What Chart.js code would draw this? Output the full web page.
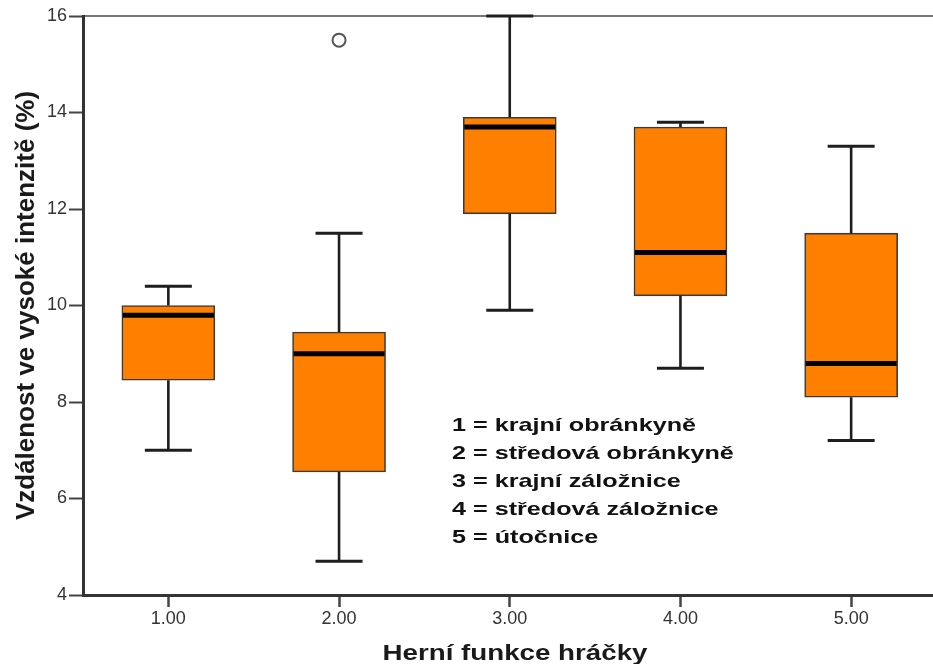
<!DOCTYPE html>
<html lang="cs">
<head>
<meta charset="utf-8">
<title>Vzdálenost ve vysoké intenzitě podle herní funkce</title>
<script src="https://cdn.jsdelivr.net/npm/chart.js@4.4.1/dist/chart.umd.min.js"></script>
<style>
  html, body { margin: 0; padding: 0; background: #fff; overflow: hidden; }
  #wrap { position: relative; width: 933px; height: 664px; overflow: hidden; }
  #chart { position: absolute; left: 0; top: 0; }
  .note {
    position: absolute; left: 452px; top: 411px;
    font-family: "Liberation Sans", Arial, sans-serif; font-weight: bold;
    font-size: 18.5px; line-height: 28px; color: #111; white-space: pre;
    transform: scaleX(1.36); transform-origin: 0 0;
  }
  .xtitle {
    position: absolute; left: 515px; top: 653px;
    font-family: "Liberation Sans", Arial, sans-serif; font-weight: bold;
    font-size: 22px; line-height: 22px; color: #1a1a1a; white-space: nowrap;
    transform: translate(-50%, -50%) scaleX(1.26);
  }
</style>
</head>
<body>
<div id="wrap">
  <canvas id="chart" width="945" height="664"></canvas>
  <div class="note" id="note"></div>
  <div class="xtitle" id="xtitle"></div>
</div>
<script>
// Herní funkce (kategorie na ose x)
const categories = ['1.00', '2.00', '3.00', '4.00', '5.00'];
// Pětičíselné charakteristiky boxplotů (%)
const whiskerLow  = [7.0, 4.7, 9.9, 8.7, 7.2];
const quartile1   = [8.45, 6.55, 11.9, 10.2, 8.1];
const median      = [9.8, 9.0, 13.7, 11.1, 8.8];
const quartile3   = [10.0, 9.45, 13.9, 13.7, 11.5];
const whiskerHigh = [10.4, 11.5, 16.0, 13.8, 13.3];
// Odlehlé hodnoty
const outliers    = [null, 15.5, null, null, null];
// Popisky osy y
const yTicks = [4, 6, 8, 10, 12, 14, 16];
// Vysvětlivky kódů herních funkcí
const positionNames = [
  '1 = krajní obránkyně',
  '2 = středová obránkyně',
  '3 = krajní záložnice',
  '4 = středová záložnice',
  '5 = útočnice'
];
const yTitle = 'Vzdálenost ve vysoké intenzitě (%)';
const xTitle = 'Herní funkce hráčky';

document.getElementById('note').textContent = positionNames.join('\n');
document.getElementById('xtitle').textContent = xTitle;

const FONT = '"Liberation Sans", Arial, sans-serif';
const BOX_W = 93;
const CAP_W = 47;

// Vousy a mediány kreslené přes měřítka grafu
const boxParts = {
  id: 'boxParts',
  afterDatasetsDraw(chart) {
    const { ctx, scales: { x, y } } = chart;
    ctx.save();
    ctx.lineCap = 'butt';
    categories.forEach((c, i) => {
      const cx = x.getPixelForValue(i);
      const yLo = y.getPixelForValue(whiskerLow[i]);
      const yQ1 = y.getPixelForValue(quartile1[i]);
      const yQ3 = y.getPixelForValue(quartile3[i]);
      const yHi = y.getPixelForValue(whiskerHigh[i]);
      const yMed = y.getPixelForValue(median[i]);
      ctx.strokeStyle = '#1e1e1e';
      // svislé čáry vousů
      ctx.lineWidth = 2.6;
      ctx.beginPath();
      ctx.moveTo(cx, yQ3); ctx.lineTo(cx, yHi);
      ctx.moveTo(cx, yQ1); ctx.lineTo(cx, yLo);
      ctx.stroke();
      // koncové příčky
      ctx.lineWidth = 3;
      ctx.beginPath();
      ctx.moveTo(cx - CAP_W / 2, yHi); ctx.lineTo(cx + CAP_W / 2, yHi);
      ctx.moveTo(cx - CAP_W / 2, yLo); ctx.lineTo(cx + CAP_W / 2, yLo);
      ctx.stroke();
      // medián
      ctx.strokeStyle = '#000';
      ctx.lineWidth = 5;
      ctx.beginPath();
      ctx.moveTo(cx - BOX_W / 2 + 1, yMed); ctx.lineTo(cx + BOX_W / 2 - 1, yMed);
      ctx.stroke();
    });
    ctx.restore();
  }
};

new Chart(document.getElementById('chart'), {
  type: 'bar',
  data: {
    labels: categories,
    datasets: [
      {
        type: 'bar',
        data: categories.map((c, i) => [quartile1[i], quartile3[i]]),
        backgroundColor: '#FF8000',
        borderColor: '#3a3a3a',
        borderWidth: 1.6,
        borderSkipped: false,
        barThickness: BOX_W,
        order: 2
      },
      {
        type: 'line',
        data: outliers,
        showLine: false,
        pointStyle: 'circle',
        pointRadius: 6.5,
        pointBorderWidth: 2,
        pointBorderColor: '#555',
        pointBackgroundColor: 'rgba(255,255,255,0)',
        order: 1
      }
    ]
  },
  options: {
    responsive: false,
    animation: false,
    events: [],
    layout: { padding: { left: 0, right: 2, top: 16, bottom: 0 } },
    plugins: { legend: { display: false }, tooltip: { enabled: false } },
    scales: {
      x: {
        type: 'category',
        offset: true,
        grid: { display: true, drawOnChartArea: false, offset: false, tickLength: 12, tickWidth: 2.5, tickColor: '#444' },
        border: { display: true, color: '#333', width: 3 },
        ticks: { font: { family: FONT, size: 18 }, color: '#333', padding: 1, maxRotation: 0 },
        afterFit(s) { s.height = 69; }
      },
      xTop: {
        type: 'category',
        position: 'top',
        ticks: { display: false },
        grid: { display: false },
        border: { display: true, color: '#777', width: 2 },
        afterFit(s) { s.height = 0; }
      },
      y: {
        type: 'linear',
        min: 4,
        max: 16,
        afterBuildTicks(s) { s.ticks = yTicks.map(v => ({ value: v })); },
        grid: { drawOnChartArea: false, tickLength: 14, tickWidth: 2, tickColor: '#444' },
        border: { display: true, color: '#333', width: 3 },
        ticks: { font: { family: FONT, size: 18 }, color: '#333', padding: 2 },
        title: {
          display: true,
          text: yTitle,
          color: '#1a1a1a',
          font: { family: FONT, size: 26, weight: 'bold', lineHeight: 1 },
          padding: { top: 14, bottom: 0 }
        },
        afterFit(s) { s.width = 83; }
      }
    }
  },
  plugins: [boxParts]
});
</script>
</body>
</html>
